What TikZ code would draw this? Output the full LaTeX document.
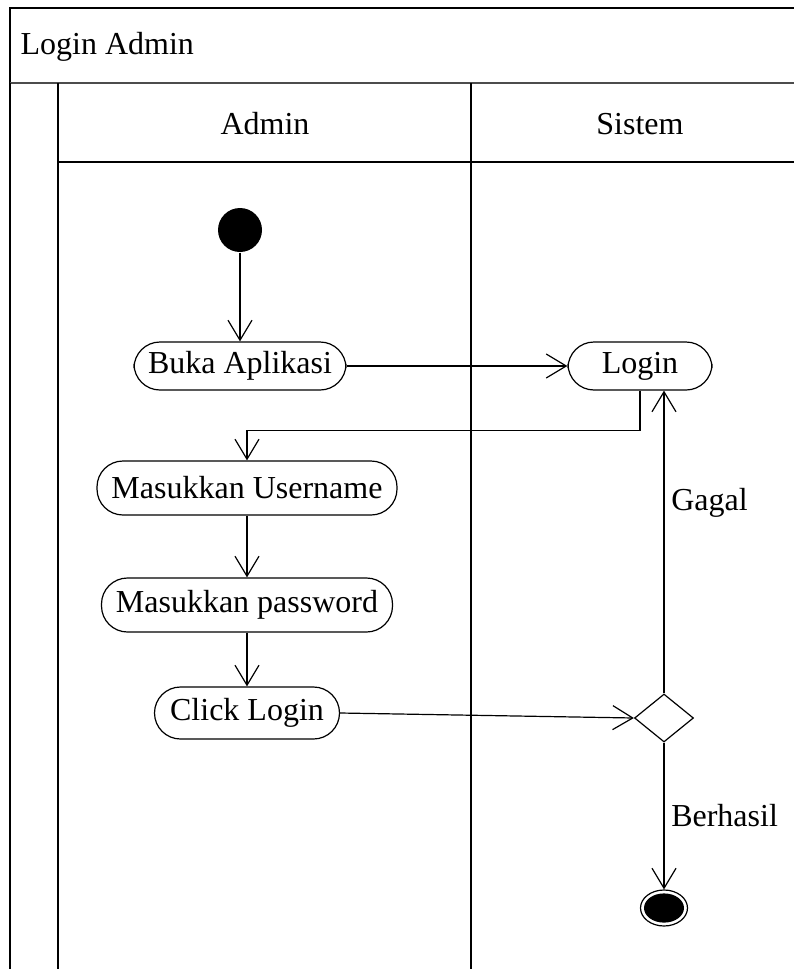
\documentclass[tikz,border=0pt]{standalone}
\usepackage{fontspec}
\setmainfont{Liberation Serif}
\newfontfamily\diagfont{Liberation Serif}
\usetikzlibrary{arrows.meta,shapes.geometric,positioning}

\tikzset{
    act/.style = {
        draw,
        rectangle,
        rounded corners = 13pt,
        minimum height = 26pt,
        inner sep = 0pt},
    startnode/.style = {
        circle,
        fill = black,
        minimum size = 22pt,
        inner sep = 0pt},
    endnode/.style = {
        ellipse,
        draw,
        minimum width = 23.5pt,
        minimum height = 18pt,
        inner sep = 0pt},
    decision/.style = {
        diamond,
        draw,
        aspect = 1.23,
        minimum width = 29.5pt,
        minimum height = 24pt,
        inner sep = 0pt},
    flow/.style = {-{Straight Barb[length=10pt,width=12pt]}},
    lane/.style = {line width = 0.7pt}
}

\begin{document}
\begin{tikzpicture}[x=0.5pt, y=-0.5pt, line width=0.6pt,
    font=\diagfont\fontsize{16}{19}\selectfont]
    \useasboundingbox (0,0) rectangle (794,969);
    % frame and lanes
    \draw[lane] (10,83) -- (10,8) -- (794,8);
    \draw[line width=1.3pt, black!70] (10,83) -- (794,83);
    \draw[lane] (10,83) -- (10,969);
    \draw[lane] (58,83) -- (58,969);
    \draw[lane] (471,83) -- (471,969);
    \draw[lane] (58,162) -- (794,162);
    \node[anchor=west, inner sep=0pt] (title) at (20,47) {Login Admin};
    \node (hadmin) at (265,124) {Admin};
    \node (hsistem) at (640,124) {Sistem};
    % activities
    \node[startnode] (start) at (240,230) {};
    \node[act, minimum width=106pt, minimum height=24pt] (buka) at (240,366) {Buka Aplikasi};
    \node[act, minimum width=72pt, minimum height=24pt] (login) at (640,366) {Login};
    \node[act, minimum width=150pt, minimum height=27pt] (user) at (247,488) {Masukkan Username};
    \node[act, minimum width=145.5pt, minimum height=27pt] (pass) at (247,605) {Masukkan password};
    \node[act, minimum width=92.5pt] (click) at (247,713) {Click Login};
    \node[decision] (cek) at (664,718) {};
    \node[endnode] (fin) at (664,908) {};
    \fill (fin.center) ellipse (10pt and 7.3pt);
    % flows
    \draw[flow] (start) -- (buka);
    \draw[flow] (buka) -- (login);
    \draw[flow] (login.south) -- ++(0,40) -| (user.north);
    \draw[flow] (user) -- (pass);
    \draw[flow] (pass) -- (click);
    \draw[flow] (click.east) -- (cek.west);
    \draw[flow] (cek.north) -- node[right=0pt, pos=0.63] (gagal) {Gagal} (cek.north |- login.south);
    \draw[flow] (cek.south) -- node[right=0pt, pos=0.5] (berhasil) {Berhasil} (fin.north);
\end{tikzpicture}
\end{document}
